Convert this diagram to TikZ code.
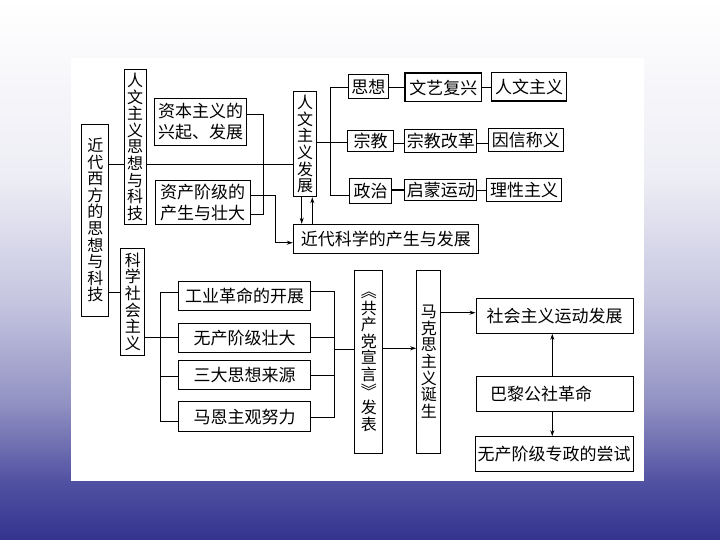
\documentclass[tikz,border=0pt]{standalone}
\usepackage{fontspec}
\newfontfamily\cjk{Noto Sans CJK SC}
\usetikzlibrary{arrows.meta}
\definecolor{bgA}{HTML}{33338F}
\definecolor{bgB}{HTML}{5252A3}
\definecolor{bgC}{HTML}{9494C4}
\definecolor{bgD}{HTML}{C5C5E0}
\definecolor{bgE}{HTML}{EDEDF5}
\pgfdeclareverticalshading{bgshade}{100bp}{color(0bp)=(bgA); color(25bp)=(bgA); color(30.5bp)=(bgB); color(38bp)=(bgC); color(47bp)=(bgD); color(58.5bp)=(bgE); color(75bp)=(white); color(100bp)=(white)}
\begin{document}
\begin{tikzpicture}[x=1pt,y=-1pt,
  box/.style={draw, line width=1pt, inner sep=0pt, fill=white},
  hb/.style={box, font=\cjk\fontsize{17}{21}\selectfont, align=center},
  vb/.style={box, font=\cjk\fontsize{16}{16.6}\selectfont, align=center},
  conn/.style={line width=0.9pt},
  arr/.style={conn, -{Stealth[length=6pt,width=4pt]}}]
\useasboundingbox (0,0) rectangle (720,540);
\shade[shading=bgshade] (0,0) rectangle (720,540);
\fill[white] (71,58) rectangle (644,481.4);

% top part
\node[vb, minimum width=27.3, minimum height=191.7] (bigL) at (95.3,220.2) {近\\代\\西\\方\\的\\思\\想\\与\\科\\技};
\node[vb, minimum width=22, minimum height=155] (rw) at (135,146.8) {人\\文\\主\\义\\思\\想\\与\\科\\技};
\node[hb, minimum width=92.4, minimum height=47.4] (zb) at (200.5,122) {资本主义的\\兴起、发展};
\node[hb, minimum width=95, minimum height=44] (zc) at (202.5,203) {资产阶级的\\产生与壮大};
\node[vb, minimum width=23.4, minimum height=105] (rwfz) at (305,144.2) {人\\文\\主\\义\\发\\展};
\node[hb, minimum width=40, minimum height=24] (sx) at (368.3,87) {思想};
\node[hb, line width=1.6pt, minimum width=76.7, minimum height=28.4] (wy) at (443.3,87.5) {文艺复兴};
\node[hb, line width=1.3pt, minimum width=75, minimum height=28.7] (rwzy) at (529.2,86.7) {人文主义};
\node[hb, minimum width=45.6, minimum height=20.7] (zj) at (370.5,141.3) {宗教};
\node[hb, minimum width=71.7, minimum height=23.3] (zjgg) at (440.8,140.7) {宗教改革};
\node[hb, minimum width=75, minimum height=22.7] (yx) at (525.8,140.3) {因信称义};
\node[hb, minimum width=42.4, minimum height=25] (zz) at (370.5,190.8) {政治};
\node[hb, minimum width=71.7, minimum height=21] (qm) at (440.8,190.5) {启蒙运动};
\node[hb, minimum width=75, minimum height=22.7] (lx) at (524.2,190.3) {理性主义};
\node[hb, minimum width=185, minimum height=29] (kx) at (385.8,238.8) {近代科学的产生与发展};

% bottom part
\node[vb, minimum width=24.3, minimum height=106.7] (kxsh) at (132.8,301.7) {科\\学\\社\\会\\主\\义};
\node[hb, minimum width=132.4, minimum height=29.3] (gy) at (244.5,296.3) {工业革命的开展};
\node[hb, minimum width=132.4, minimum height=29.4] (wc) at (244.5,338) {无产阶级壮大};
\node[hb, minimum width=132.4, minimum height=29.3] (sd) at (244.5,374.7) {三大思想来源};
\node[hb, minimum width=132.4, minimum height=30] (me) at (244.5,416.7) {马恩主观努力};
\node[vb, minimum width=27.7, minimum height=183.3] (gc) at (368.8,361.7) {︽\\共\\产\\党\\宣\\言\\︾\\发\\表};
\node[vb, minimum width=24.3, minimum height=183.3] (mk) at (428.8,361.7) {马\\克\\思\\主\\义\\诞\\生};
\node[hb, minimum width=157.3, minimum height=35] (shzy) at (554.7,315.8) {社会主义运动发展};
\node[hb, minimum width=156.6, minimum height=35, text width=130, align=left] (bl) at (555,394.2) {巴黎公社革命};
\node[hb, minimum width=158.3, minimum height=35] (wczz) at (554.2,454.2) {无产阶级专政的尝试};

% connectors, top
\coordinate (ja) at (263,164);
\draw[conn] (bigL.east |- ja) -- (rw.west |- ja);
\draw[conn] (rw.east |- ja) -- (rwfz.west |- ja);
\coordinate (jb1) at (263,114.3);
\coordinate (jb2) at (263,214.3);
\draw[conn] (zb.east |- jb1) -- (jb1) -- (jb2) -- (zc.east |- jb2);
\coordinate (jc1) at (275.7,195);
\coordinate (jc2) at (275.7,242.7);
\draw[arr] (zc.east |- jc1) -- (jc1) -- (jc2) -- (kx.west |- jc2);
\coordinate (jd) at (330,142.3);
\coordinate (jd1) at (330,87.3);
\coordinate (jd3) at (330,195);
\draw[conn] (rwfz.east |- jd) -- (jd) -- (zj.west |- jd);
\draw[conn] (sx.west |- jd1) -- (jd1) -- (jd3) -- (zz.west |- jd3);
\draw[conn] (sx.east |- jd1) -- (wy.west |- jd1);
\draw[conn] (wy.east |- jd1) -- (rwzy.west |- jd1);
\coordinate (jz) at (0,143.3);
\draw[conn] (zj.east |- jz) -- (zjgg.west |- jz);
\draw[conn] (zjgg.east |- jz) -- (yx.west |- jz);
\coordinate (jq) at (0,190);
\draw[conn, line width=1.5pt] (zz.east |- jq) -- (qm.west |- jq);
\draw[conn] (qm.east |- jq) -- (lx.west |- jq);
\coordinate (xa) at (301.7,0);
\coordinate (xb) at (312.3,0);
\draw[arr] (rwfz.south -| xa) -- (kx.north -| xa);
\draw[arr] (kx.north -| xb) -- (rwfz.south -| xb);

% connectors, bottom
\coordinate (je) at (0,292.7);
\draw[conn] (bigL.east |- je) -- (kxsh.west |- je);
\coordinate (jf) at (160,337.3);
\draw[conn] (kxsh.east |- jf) -- (wc.west |- jf);
\coordinate (jf1) at (160,292.7);
\coordinate (jf3) at (160,376.7);
\coordinate (jf4) at (160,421);
\draw[conn] (gy.west |- jf1) -- (jf1) -- (jf4) -- (me.west |- jf4);
\draw[conn, line width=1.5pt] (jf3) -- (sd.west |- jf3);
\coordinate (jg1) at (334.3,291.7);
\coordinate (jg2) at (334.3,337.3);
\coordinate (jg3) at (334.3,375.7);
\coordinate (jg4) at (334.3,417.3);
\draw[conn] (gy.east |- jg1) -- (jg1) -- (jg4) -- (me.east |- jg4);
\draw[conn] (wc.east |- jg2) -- (jg2);
\draw[conn] (sd.east |- jg3) -- (jg3);
\coordinate (jh) at (334.3,349.5);
\draw[conn, line width=1.5pt] (jh) -- (gc.west |- jh);
\coordinate (ji) at (0,348.3);
\draw[arr] (gc.east |- ji) -- (mk.west |- ji);
\coordinate (jj) at (0,312.7);
\draw[arr] (mk.east |- jj) -- (shzy.west |- jj);
\coordinate (jk) at (552.3,0);
\draw[arr] (bl.north -| jk) -- (shzy.south -| jk);
\draw[arr] (bl.south -| jk) -- (wczz.north -| jk);
\end{tikzpicture}
\end{document}
